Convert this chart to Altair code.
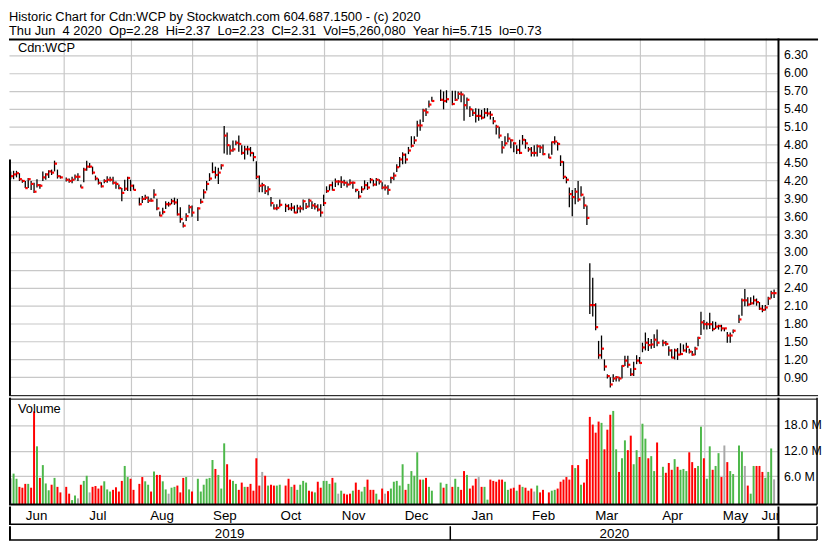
import altair as alt
import pandas as pd

# ---------------- data ----------------
TITLE_LINES = [
    "Historic Chart for Cdn:WCP by Stockwatch.com 604.687.1500 - (c) 2020",
    "Thu Jun \u00a04 2020 \u00a0Op=2.28 \u00a0Hi=2.37 \u00a0Lo=2.23 \u00a0Cl=2.31 \u00a0Vol=5,260,080 \u00a0Year hi=5.715 \u00a0lo=0.73",
]
SYMBOL = "Cdn:WCP"
VOLUME_LABEL = "Volume"
START, END = "2019-06-05", "2020-06-04"   # weekday slots (holidays left empty)

PRICE_TICKS = [0.90, 1.20, 1.50, 1.80, 2.10, 2.40, 2.70, 3.00, 3.30, 3.60,
               3.90, 4.20, 4.50, 4.80, 5.10, 5.40, 5.70, 6.00, 6.30]
VOLUME_TICKS = [6, 12, 18]   # millions

N_ = None
CLOSE = [
    4.27, 4.30, 4.32, 4.22, 4.19, 4.07, 4.22, 4.14, 4.01, 4.12,
    4.11, 4.25, 4.30, 4.35, 4.33, 4.48, 4.27, 4.25, N_, 4.21,
    4.19, 4.21, 4.26, 4.26, 4.08, 4.38, 4.43, 4.43, 4.33, 4.23,
    4.16, 4.10, 4.19, 4.21, 4.21, 4.16, 4.14, 4.07, 3.99, 4.06,
    4.24, 4.11, 4.04, N_, 3.80, 3.89, 3.91, 3.86, 3.86, 3.96,
    3.73, 3.61, 3.67, 3.80, 3.80, 3.85, 3.83, 3.63, 3.55, 3.44,
    3.60, 3.75, 3.66, N_, 3.73, 3.84, 4.00, 4.14, 4.23, 4.34,
    4.29, 4.33, 4.45, 4.95, 4.79, 4.70, 4.72, 4.83, 4.81, 4.66,
    4.72, 4.72, 4.66, 4.59, 4.26, 4.11, 4.12, 4.02, 4.05, 3.82,
    3.73, 3.74, 3.79, N_, 3.77, 3.73, 3.74, 3.66, 3.73, 3.73,
    3.85, 3.76, 3.86, 3.78, 3.76, 3.71, 3.66, 3.82, 4.02, 4.12,
    4.04, 4.18, 4.18, 4.17, 4.16, 4.13, 4.16, 4.16, 4.04, 3.93,
    4.05, 4.12, 4.08, 4.21, 4.13, 4.21, 4.18, 4.08, 4.08, 4.04,
    4.24, 4.28, 4.42, 4.55, 4.63, 4.55, 4.70, 4.78, 4.87, 5.12,
    5.12, 5.37, 5.34, 5.47, 5.53, N_, N_, 5.55, 5.53, 5.56,
    N_, 5.48, 5.55, 5.65, 5.64, 5.46, 5.55, 5.39, 5.33, 5.28,
    5.28, 5.25, 5.33, 5.32, 5.30, 5.19, 5.10, 4.95, 4.75, 4.82,
    4.90, 4.87, 4.82, 4.71, 4.66, 4.88, 4.82, 4.72, 4.66, 4.66,
    4.77, 4.75, 4.64, N_, 4.58, 4.84, 4.85, 4.81, 4.51, 4.26,
    4.21, 3.97, 3.92, 4.01, 3.88, 3.96, 3.78, 3.57, 2.11, 2.11,
    1.74, 1.27, 1.38, 1.08, 0.92, 0.78, 0.88, 0.90, 0.88, 1.09,
    1.18, 1.11, 0.95, 1.04, 1.18, 1.14, 1.40, 1.48, 1.44, 1.45,
    1.53, 1.48, N_, 1.48, 1.46, 1.35, 1.23, 1.35, 1.28, 1.29,
    1.35, 1.41, 1.33, 1.28, 1.38, 1.56, 1.82, 1.79, 1.79, 1.79,
    1.71, 1.75, 1.76, 1.72, 1.72, 1.60, 1.60, 1.68, N_, 1.87,
    2.19, 2.19, 2.12, 2.14, 2.19, 2.16, 2.05, 2.03, 2.07, 2.22,
    2.31, 2.31,
]
HIGH = [
    4.35, 4.36, 4.36, 4.32, 4.21, 4.19, 4.24, 4.19, 4.16, 4.22,
    4.14, 4.35, 4.32, 4.37, 4.38, 4.53, 4.38, 4.28, N_, 4.25,
    4.23, 4.26, 4.30, 4.32, 4.13, 4.41, 4.53, 4.49, 4.43, 4.28,
    4.23, 4.17, 4.22, 4.27, 4.26, 4.26, 4.18, 4.13, 4.07, 4.21,
    4.26, 4.21, 4.13, N_, 3.91, 3.94, 3.96, 3.93, 3.90, 4.05,
    3.89, 3.68, 3.74, 3.85, 3.84, 3.89, 3.91, 3.89, 3.75, 3.50,
    3.65, 3.79, 3.78, N_, 3.75, 3.89, 4.05, 4.19, 4.32, 4.50,
    4.43, 4.41, 4.47, 5.11, 5.00, 4.79, 4.87, 4.87, 4.95, 4.79,
    4.78, 4.78, 4.76, 4.67, 4.52, 4.28, 4.16, 4.12, 4.10, 3.92,
    3.80, 3.80, 3.88, N_, 3.81, 3.80, 3.82, 3.78, 3.79, 3.78,
    3.88, 3.82, 3.89, 3.85, 3.82, 3.80, 3.80, 3.96, 4.10, 4.13,
    4.18, 4.23, 4.20, 4.27, 4.21, 4.18, 4.22, 4.18, 4.06, 4.02,
    4.10, 4.20, 4.17, 4.24, 4.21, 4.24, 4.22, 4.17, 4.13, 4.12,
    4.26, 4.33, 4.47, 4.59, 4.67, 4.65, 4.76, 4.94, 4.94, 5.20,
    5.22, 5.40, 5.41, 5.54, 5.60, N_, N_, 5.72, 5.69, 5.71,
    N_, 5.70, 5.70, 5.69, 5.69, 5.64, 5.59, 5.44, 5.39, 5.41,
    5.40, 5.38, 5.41, 5.41, 5.36, 5.26, 5.13, 5.10, 4.86, 4.94,
    4.99, 4.89, 4.84, 4.79, 4.88, 4.96, 4.89, 4.76, 4.76, 4.79,
    4.80, 4.79, 4.80, N_, 4.65, 4.85, 4.94, 4.84, 4.62, 4.52,
    4.26, 4.08, 4.04, 4.07, 4.19, 4.10, 3.93, 3.78, 2.81, 2.57,
    2.14, 1.51, 1.60, 1.20, 0.95, 0.90, 0.95, 0.92, 0.91, 1.10,
    1.26, 1.26, 1.05, 1.16, 1.27, 1.24, 1.48, 1.65, 1.56, 1.54,
    1.62, 1.70, N_, 1.53, 1.51, 1.42, 1.37, 1.38, 1.39, 1.47,
    1.45, 1.48, 1.38, 1.34, 1.41, 1.58, 2.00, 1.86, 1.83, 1.98,
    1.84, 1.83, 1.78, 1.78, 1.73, 1.66, 1.65, 1.70, N_, 1.95,
    2.22, 2.38, 2.24, 2.24, 2.27, 2.22, 2.16, 2.11, 2.11, 2.25,
    2.35, 2.37,
]
LOW = [
    4.22, 4.22, 4.25, 4.19, 4.16, 4.07, 4.07, 4.04, 3.99, 4.08,
    4.06, 4.19, 4.21, 4.24, 4.29, 4.35, 4.23, 4.23, N_, 4.18,
    4.16, 4.15, 4.21, 4.19, 4.08, 4.17, 4.36, 4.41, 4.30, 4.20,
    4.13, 4.08, 4.15, 4.16, 4.18, 4.13, 4.06, 4.05, 3.85, 4.02,
    4.02, 4.02, 4.04, N_, 3.78, 3.82, 3.87, 3.82, 3.84, 3.90,
    3.70, 3.60, 3.63, 3.72, 3.76, 3.80, 3.79, 3.61, 3.49, 3.41,
    3.52, 3.65, 3.59, N_, 3.52, 3.81, 3.89, 4.03, 4.19, 4.32,
    4.23, 4.14, 4.38, 4.65, 4.63, 4.63, 4.68, 4.79, 4.68, 4.63,
    4.55, 4.63, 4.60, 4.52, 4.22, 4.00, 4.00, 3.97, 3.95, 3.76,
    3.71, 3.70, 3.75, N_, 3.67, 3.70, 3.69, 3.65, 3.65, 3.66,
    3.70, 3.72, 3.75, 3.72, 3.71, 3.68, 3.59, 3.77, 3.99, 4.03,
    4.03, 4.09, 4.12, 4.07, 4.11, 4.08, 4.12, 4.06, 4.00, 3.89,
    3.99, 4.05, 4.04, 4.15, 4.10, 4.11, 4.13, 4.05, 4.03, 3.96,
    4.15, 4.20, 4.34, 4.42, 4.47, 4.48, 4.64, 4.75, 4.81, 4.93,
    5.03, 5.18, 5.28, 5.42, 5.52, N_, N_, 5.53, 5.39, 5.50,
    N_, 5.46, 5.53, 5.56, 5.51, 5.20, 5.39, 5.26, 5.28, 5.17,
    5.20, 5.22, 5.24, 5.27, 5.22, 5.14, 4.97, 4.90, 4.65, 4.77,
    4.84, 4.74, 4.67, 4.64, 4.64, 4.80, 4.73, 4.68, 4.60, 4.60,
    4.60, 4.66, 4.62, N_, 4.57, 4.63, 4.80, 4.70, 4.44, 4.22,
    4.15, 3.75, 3.60, 3.80, 3.84, 3.93, 3.72, 3.45, 1.96, 1.92,
    1.69, 1.21, 1.21, 1.01, 0.88, 0.73, 0.82, 0.83, 0.83, 0.88,
    1.09, 1.06, 0.92, 0.92, 1.12, 1.13, 1.32, 1.35, 1.34, 1.38,
    1.39, 1.42, N_, 1.42, 1.43, 1.26, 1.22, 1.20, 1.19, 1.27,
    1.33, 1.31, 1.30, 1.26, 1.27, 1.42, 1.61, 1.70, 1.70, 1.71,
    1.67, 1.71, 1.70, 1.67, 1.67, 1.48, 1.48, 1.64, N_, 1.81,
    1.93, 2.09, 2.09, 2.11, 2.12, 2.10, 2.03, 1.99, 2.02, 2.11,
    2.22, 2.23,
]
VOLUME = [   # millions of shares
    5.5, 6.6, 5.4, 3.5, 3.3, 4.2, 4.2, 3.3, 21.2, 13.0,
    5.6, 8.6, 4.3, 2.7, 4.0, 5.6, 3.5, 2.2, N_, 3.5,
    1.9, 0.4, 1.5, 0.8, 4.0, 4.9, 6.1, 2.2, 3.5, 3.7,
    3.1, 3.8, 4.8, 2.9, 2.4, 2.8, 3.4, 2.4, 4.9, 8.4,
    5.8, 5.4, 2.8, N_, 4.2, 5.8, 4.8, 4.0, 2.4, 7.1,
    6.3, 6.3, 4.8, 2.9, 1.9, 3.3, 3.5, 3.8, 2.2, 5.6,
    5.8, 2.9, 2.4, N_, 5.4, 2.4, 4.0, 5.4, 5.6, 9.8,
    7.7, 6.3, 3.1, 13.7, 8.8, 5.2, 4.9, 4.2, 2.8, 4.5,
    3.5, 3.5, 4.2, 2.6, 10.2, 3.8, 7.0, 6.1, 3.8, 4.0,
    3.8, 3.8, 4.0, N_, 3.8, 5.4, 3.5, 4.0, 2.8, 4.0,
    4.9, 4.5, 2.6, 2.4, 2.2, 4.7, 3.3, 4.9, 4.9, 4.2,
    5.6, 4.5, 1.9, 2.6, 1.9, 1.7, 1.9, 2.6, 4.5, 2.8,
    2.4, 3.5, 5.2, 2.8, 2.8, 1.9, 0.5, 3.1, 1.9, 2.5,
    3.1, 4.7, 4.9, 3.8, 8.8, 2.8, 4.2, 7.2, 6.1, 11.6,
    5.2, 5.2, 5.6, 3.5, 2.6, N_, N_, 4.5, 3.3, 4.2,
    N_, 3.5, 5.4, 3.5, 2.8, 7.2, 6.3, 3.1, 3.8, 5.4,
    5.8, 3.5, 3.5, 0.5, 5.2, 4.9, 4.7, 5.2, 5.2, 4.7,
    2.8, 3.1, 3.3, 2.6, 4.0, 3.5, 3.3, 2.6, 3.1, 2.4,
    3.8, 2.2, 2.8, N_, 2.2, 2.6, 2.8, 3.1, 4.7, 5.2,
    5.8, 5.2, 8.6, 7.9, 8.6, 4.0, 4.5, 10.0, 19.9, 18.1,
    16.2, 18.8, 18.5, 12.3, 16.9, 20.4, 21.3, 12.3, 7.0, 10.2,
    14.4, 12.1, 15.5, 8.8, 12.1, 10.5, 18.3, 14.8, 10.2, 10.7,
    7.2, 13.9, N_, 8.2, 6.8, 9.1, 7.5, 10.0, 8.2, 7.5,
    7.7, 7.2, 11.6, 9.3, 7.9, 8.4, 17.6, 10.2, 5.4, 13.0,
    7.5, 8.4, 11.4, 5.8, 13.2, 9.3, 7.2, 6.5, N_, 13.2,
    11.8, 8.4, 3.8, 1.9, 8.4, 8.4, 8.4, 7.0, 5.6, 7.0,
    12.5, 5.26,
]
# g = up day, r = down day, n = unchanged
VOL_DIR = [
    "n", "g", "g", "r", "r", "r", "g", "r", "r", "g",
    "r", "g", "g", "g", "r", "g", "r", "r", N_, "r",
    "r", "g", "g", "n", "r", "g", "g", "n", "r", "r",
    "r", "r", "g", "g", "g", "r", "r", "r", "r", "g",
    "g", "r", "r", N_, "r", "r", "g", "g", "r", "g",
    "r", "r", "g", "g", "n", "g", "g", "r", "r", "r",
    "g", "g", "r", N_, "g", "g", "g", "g", "g", "g",
    "r", "g", "g", "g", "r", "r", "g", "g", "r", "r",
    "g", "r", "r", "r", "r", "r", "n", "r", "g", "r",
    "r", "g", "g", N_, "r", "r", "g", "r", "g", "g",
    "g", "g", "r", "r", "g", "r", "r", "g", "g", "g",
    "r", "g", "n", "g", "r", "r", "r", "g", "r", "r",
    "g", "g", "r", "r", "r", "g", "r", "r", "n", "r",
    "g", "g", "g", "g", "g", "r", "g", "g", "g", "g",
    "r", "g", "r", "g", "g", N_, N_, "g", "r", "g",
    N_, "r", "g", "g", "r", "r", "g", "r", "r", "r",
    "n", "r", "g", "g", "r", "r", "r", "r", "r", "g",
    "g", "r", "r", "g", "r", "g", "r", "r", "r", "n",
    "g", "r", "r", N_, "r", "g", "g", "r", "r", "r",
    "r", "r", "r", "g", "r", "g", "r", "r", "r", "r",
    "r", "r", "g", "r", "r", "r", "g", "g", "r", "g",
    "g", "r", "r", "g", "g", "r", "g", "g", "r", "g",
    "g", "r", N_, "g", "r", "r", "r", "g", "r", "g",
    "g", "g", "r", "r", "r", "g", "g", "r", "g", "g",
    "r", "g", "g", "r", "n", "r", "g", "g", N_, "g",
    "g", "n", "r", "g", "g", "r", "r", "r", "g", "g",
    "g", "n",
]

# ---------------- styling / layout ----------------
FONT = "Liberation Sans"
GRID = "#c8c8c8"
RED = "#ff0000"
GREEN = "#4db84a"
GREY = "#a8a8a8"

W = 778          # plot width
H_P = 361        # price panel
H_V = 108        # volume panel
H_M = 18         # month row
H_Y = 14         # year row
X_DOMAIN = [-0.57, 262.5]
P_DOMAIN = [0.592, 6.575]
V_DOMAIN = [-0.63, 24.41]

dates = pd.bdate_range(START, END)
n = len(dates)
assert all(len(a) == n for a in (CLOSE, HIGH, LOW, VOLUME, VOL_DIR)), n

df = pd.DataFrame({
    "i": range(n), "close": CLOSE, "high": HIGH, "low": LOW,
    "vol": VOLUME, "dir": VOL_DIR,
}).dropna(subset=["close"])
df["i2"] = df["i"] + 0.85

# month boundaries on the weekday axis
months = dates.to_period("M")
bounds, mlabels = [], [dates[0].strftime("%b")]
ybounds, ylabels = [], [str(dates[0].year)]
for k in range(1, n):
    if months[k] != months[k - 1]:
        pos = k + (0.3 if dates[k].day == 1 else -0.8)
        bounds.append(pos)
        mlabels.append(dates[k].strftime("%b"))
        if dates[k].year != dates[k - 1].year:
            ybounds.append(pos)
            ylabels.append(str(dates[k].year))
grid_df = pd.DataFrame({"pos": bounds})
edges = [X_DOMAIN[0]] + bounds + [X_DOMAIN[1]]
month_df = pd.DataFrame({"center": [(edges[j] + edges[j + 1]) / 2 for j in range(len(mlabels))],
                         "label": mlabels})
yedges = [X_DOMAIN[0]] + ybounds + [X_DOMAIN[1]]
year_df = pd.DataFrame({"center": [(yedges[j] + yedges[j + 1]) / 2 for j in range(len(ylabels))],
                        "label": ylabels})
ydiv_df = pd.DataFrame({"pos": ybounds})

xs = alt.Scale(domain=X_DOMAIN, nice=False, zero=False)
ps = alt.Scale(domain=P_DOMAIN, nice=False, zero=False)
vs = alt.Scale(domain=V_DOMAIN, nice=False, zero=False)

P_AXIS = alt.Axis(orient="right", values=PRICE_TICKS, format=".2f", title=None,
                  grid=True, gridColor=GRID, gridWidth=1.2, ticks=False, domain=False,
                  labelPadding=5, labelFont=FONT, labelFontSize=12.5, labelColor="black")
V_AXIS = alt.Axis(orient="right", values=VOLUME_TICKS, title=None,
                  labelExpr="format(datum.value, '.1f') + ' M'",
                  grid=True, gridColor=GRID, gridWidth=1.2, ticks=False, domain=False,
                  labelPadding=5, labelFont=FONT, labelFontSize=12.5, labelColor="black")

ONE = pd.DataFrame({"k": [0]})


def hline(y, x1, x2, w=1.0):
    return alt.Chart(ONE).mark_rule(color="black", strokeWidth=w).encode(
        x=alt.value(x1), x2=alt.value(x2), y=alt.value(y))


def vline(x, y1, y2, w=1.0):
    return alt.Chart(ONE).mark_rule(color="black", strokeWidth=w).encode(
        x=alt.value(x), y=alt.value(y1), y2=alt.value(y2))


def vgrid():
    return alt.Chart(grid_df).mark_rule(color=GRID, strokeWidth=1.2).encode(
        x=alt.X("pos:Q", scale=xs, axis=None))


def label(text, y):
    return alt.Chart(pd.DataFrame({"t": [text]})).mark_text(
        align="left", baseline="top", font=FONT, fontSize=13, color="black"
    ).encode(x=alt.value(9), y=alt.value(y), text="t:N")


# ---------------- price panel ----------------
hl = alt.Chart(df).mark_rule(color="black", strokeWidth=1.3).encode(
    x=alt.X("i:Q", scale=xs, axis=None),
    y=alt.Y("low:Q", scale=ps, axis=P_AXIS),
    y2="high:Q",
)
close_tick = alt.Chart(df).mark_rule(color=RED, strokeWidth=2.2).encode(
    x=alt.X("i:Q", scale=xs, axis=None), x2="i2:Q",
    y=alt.Y("close:Q", scale=ps, axis=P_AXIS),
)
left_edge = alt.Chart(pd.DataFrame({"top": [4.55]})).mark_rule(color="black", strokeWidth=2).encode(
    x=alt.value(1), y=alt.Y("top:Q", scale=ps, axis=P_AXIS), y2=alt.value(H_P))

price = alt.layer(
    vgrid(), hl, close_tick, label(SYMBOL, 3.5), left_edge,
    hline(1, 0, W + 40, 2), hline(H_P, 0, W + 40, 1), vline(W, 0, H_P, 2),
).properties(width=W, height=H_P)

# ---------------- volume panel ----------------
bars = alt.Chart(df).mark_rule(strokeWidth=2).encode(
    x=alt.X("i:Q", scale=xs, axis=None),
    y=alt.Y("vol:Q", scale=vs, axis=V_AXIS),
    y2=alt.value(H_V),
    color=alt.Color("dir:N", scale=alt.Scale(domain=["g", "r", "n"], range=[GREEN, RED, GREY]),
                    legend=None),
)
volume = alt.layer(
    vgrid(), bars, label(VOLUME_LABEL, 5.5),
    hline(1.5, 0, W + 39, 1), hline(H_V, 0, W + 39, 2),
    vline(1, 0, H_V, 2), vline(W, 0, H_V, 2), vline(W + 39, 0, H_V, 1.5),
).properties(width=W, height=H_V)

# ---------------- month row ----------------
mtext = alt.Chart(month_df).mark_text(font=FONT, fontSize=13.5, color="black",
                                      baseline="middle", clip=True).encode(
    x=alt.X("center:Q", scale=xs, axis=None), y=alt.value(H_M / 2 + 0.5), text="label:N")
month_row = alt.layer(
    mtext, hline(H_M, 0, W + 39, 1.6),
    vline(1, 0, H_M, 2), vline(W, 0, H_M, 2), vline(W + 39, 0, H_M, 1.5),
).properties(width=W, height=H_M)

# ---------------- year row ----------------
ytext = alt.Chart(year_df).mark_text(font=FONT, fontSize=13.5, color="black",
                                     baseline="middle", clip=True).encode(
    x=alt.X("center:Q", scale=xs, axis=None), y=alt.value(H_Y / 2 + 0.5), text="label:N")
ydiv = alt.Chart(ydiv_df).mark_rule(color="black", strokeWidth=1.5).encode(
    x=alt.X("pos:Q", scale=xs, axis=None), y=alt.value(0), y2=alt.value(H_Y))
year_row = alt.layer(
    ytext, ydiv, hline(H_Y, 0, W + 39, 1.6),
    vline(1, 0, H_Y, 2), vline(W, 0, H_Y, 2), vline(W + 39, 0, H_Y, 1.5),
).properties(width=W, height=H_Y)

chart = alt.vconcat(price, volume, month_row, year_row, spacing=0).properties(
    title=alt.TitleParams(text=TITLE_LINES, anchor="start", font=FONT, fontSize=13,
                          fontWeight="normal", color="black", lineHeight=13.5, offset=0, dx=1),
    padding=0,
).configure_view(stroke=None)

chart.save("out.html", embed_options={"renderer": "svg", "actions": False})
